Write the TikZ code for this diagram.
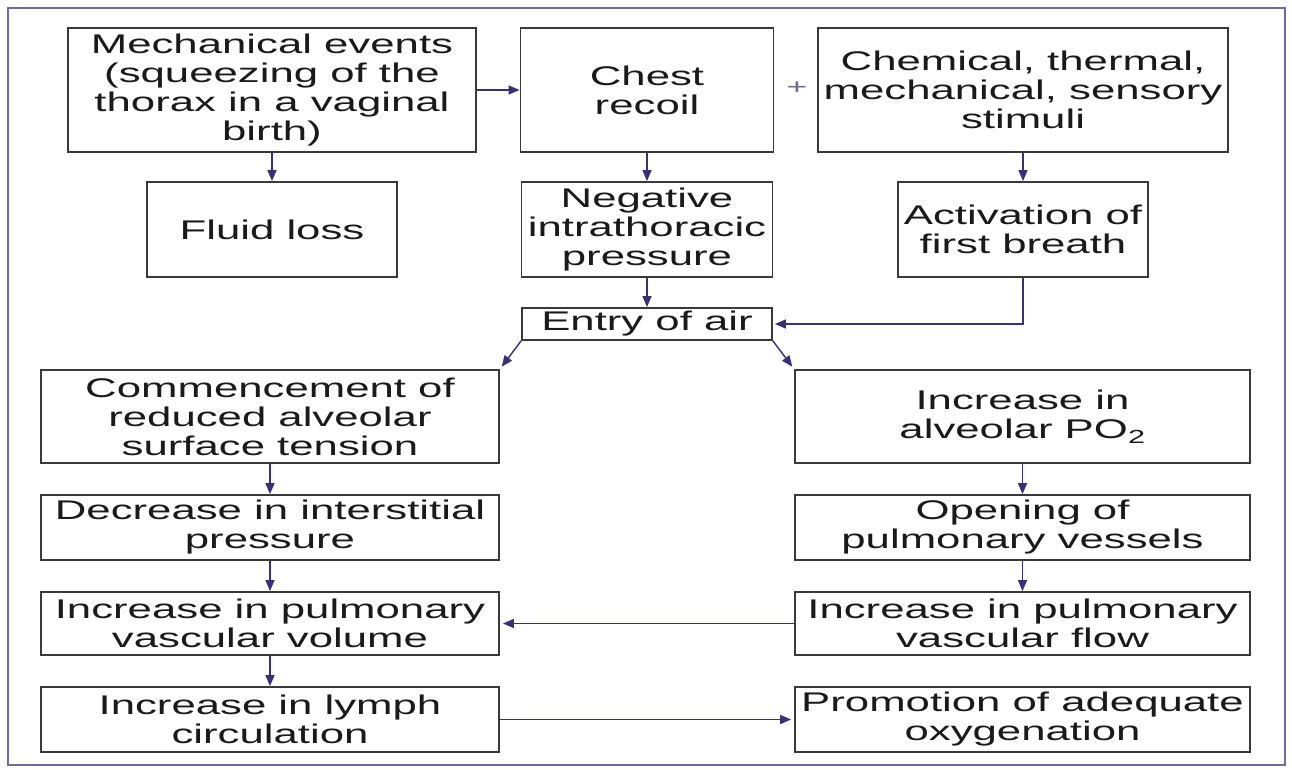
\documentclass[tikz,border=0pt]{standalone}
\usepackage{fontspec}
\setmainfont[FakeStretch=1.62]{Liberation Sans}
\usetikzlibrary{arrows.meta}
\definecolor{boxline}{HTML}{3A3A3A}
\definecolor{arrowc}{HTML}{3A2F78}
\definecolor{framec}{HTML}{726A9C}
\definecolor{txt}{HTML}{1A1A1A}
\begin{document}
\begin{tikzpicture}[x=1pt,y=-1pt,
  box/.style={draw=boxline, line width=1.8pt, inner sep=0pt, align=center, text=txt,
    font=\fontsize{27}{29}\selectfont},
  arr/.style={draw=arrowc, line width=1.4pt, -{Triangle[length=11pt,width=9pt]}}]
\useasboundingbox (0,0) rectangle (1292,769);
\fill[white] (0,0) rectangle (1292,769);
\draw[framec, line width=2.5pt] (8,8) rectangle (1285,765);

% top row
\node[box, minimum width=408pt, minimum height=124pt] (mech) at (272,90)
  {Mechanical events\\(squeezing of the\\thorax in a vaginal\\birth)};
\node[box, minimum width=253pt, minimum height=124pt] (chest) at (647,90)
  {Chest\\recoil};
\node[box, minimum width=410pt, minimum height=124pt] (chem) at (1023,90)
  {Chemical, thermal,\\mechanical, sensory\\stimuli};
\node[text=framec, font=\fontsize{22}{22}\selectfont, inner sep=0pt] (plus) at (797,88) {+};

% second row
\node[box, minimum width=250pt, minimum height=95pt] (fluid) at (272,229.5) {Fluid loss};
\node[box, minimum width=251pt, minimum height=95pt] (neg) at (647,229.5)
  {Negative\\intrathoracic\\pressure};
\node[box, minimum width=250pt, minimum height=95pt] (act) at (1023,229.5)
  {Activation of\\first breath};

% entry
\node[box, minimum width=250pt, minimum height=32pt] (entry) at (647,324) {Entry of air};

% left column
\node[box, minimum width=458pt, minimum height=93pt] (comm) at (270,416.5)
  {Commencement of\\reduced alveolar\\surface tension};
\node[box, minimum width=458pt, minimum height=65pt] (decr) at (270,527.5)
  {Decrease in interstitial\\pressure};
\node[box, minimum width=458pt, minimum height=63pt] (vol) at (270,623.5)
  {Increase in pulmonary\\vascular volume};
\node[box, minimum width=458pt, minimum height=65pt] (lymph) at (270,719.5)
  {Increase in lymph\\circulation};

% right column
\node[box, minimum width=455pt, minimum height=93pt] (po2) at (1022.5,416.5)
  {Increase in\\alveolar PO\textsubscript{2}};
\node[box, minimum width=455pt, minimum height=65pt] (open) at (1022.5,527.5)
  {Opening of\\pulmonary vessels};
\node[box, minimum width=455pt, minimum height=63pt] (flow) at (1022.5,623.5)
  {Increase in pulmonary\\vascular flow};
\node[box, minimum width=455pt, minimum height=65pt] (promo) at (1022.5,719.5)
  {Promotion of adequate\\oxygenation};

% connectors
\draw[arr] (mech.east) -- (chest.west);
\draw[arr] (mech.south) -- (fluid.north);
\draw[arr] (chest.south) -- (neg.north);
\draw[arr] (chem.south) -- (act.north);
\draw[arr] (neg.south) -- (entry.north);
\draw[arr, shorten >=2pt] (act.south) |- (entry.east);
\draw[arr, shorten >=3pt] (entry.south west) -- (comm.north east);
\draw[arr, shorten >=3pt] (entry.south east) -- (po2.north west);
\draw[arr] (comm.south) -- (decr.north);
\draw[arr] (decr.south) -- (vol.north);
\draw[arr] (vol.south) -- (lymph.north);
\draw[arr] (po2.south) -- (open.north);
\draw[arr] (open.south) -- (flow.north);
\draw[arr, shorten >=3pt] (flow.west) -- (vol.east);
\draw[arr, shorten >=3pt] (lymph.east) -- (promo.west);
\end{tikzpicture}
\end{document}
